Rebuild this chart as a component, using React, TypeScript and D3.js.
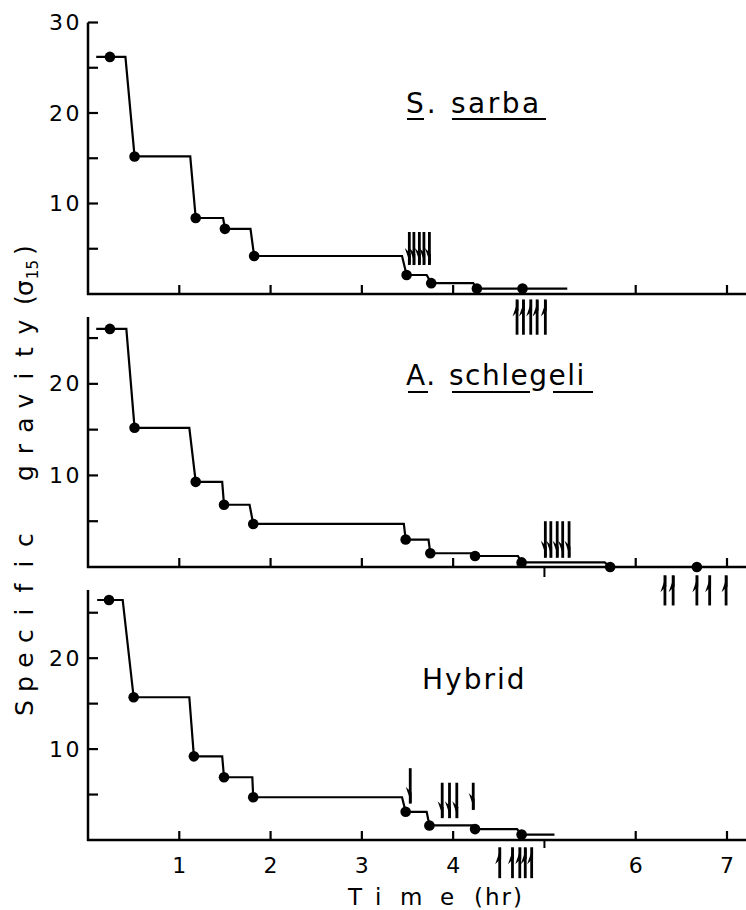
import React from "react";
import * as d3 from "d3";

// ---------- data ----------
const xTicks = [1, 2, 3, 4, 5, 6, 7];
const xTickLabels = ["1", "2", "3", "4", "", "6", "7"];
const yMinorTicks = [5, 15, 25];
const yMajorTicks = [10, 20, 30];

// S. sarba
const sarbaT = [0.24, 0.51, 1.18, 1.5, 1.82, 3.49, 3.76, 4.26, 4.76];
const sarbaV = [26.2, 15.2, 8.4, 7.2, 4.2, 2.1, 1.2, 0.6, 0.6];
const sarbaDrop = [0, 0.41, 1.12, 1.48, 1.78, 3.44, 3.71, 4.22, 4.76];
const sarbaStart = 0.09;
const sarbaEnd = 5.25;
const sarbaDownT = [3.52, 3.57, 3.63, 3.68, 3.74];
const sarbaDownY = [6.85, 3.2];
const sarbaUpT = [4.7, 4.77, 4.85, 4.92, 5.01];
const sarbaUpY = [-0.6, -4.5];

// A. schlegeli
const schT = [0.24, 0.51, 1.18, 1.49, 1.81, 3.48, 3.75, 4.24, 4.75, 5.72];
const schV = [26.0, 15.2, 9.3, 6.8, 4.7, 3.0, 1.5, 1.2, 0.5, 0];
const schDrop = [0, 0.42, 1.11, 1.47, 1.77, 3.46, 3.73, 4.22, 4.71, 5.66];
const schStart = 0.09;
const schEnd = 5.72;
const schExtraT = [6.67];
const schExtraV = [0];
const schDownT = [5.01, 5.07, 5.14, 5.2, 5.27];
const schDownY = [5.0, 1.0];
const schUpT = [6.32, 6.41, 6.67, 6.81, 6.99];
const schUpY = [-0.9, -4.2];

// Hybrid
const hybT = [0.23, 0.5, 1.16, 1.49, 1.81, 3.48, 3.74, 4.24, 4.75];
const hybV = [26.4, 15.7, 9.2, 6.9, 4.7, 3.1, 1.6, 1.2, 0.6];
const hybDrop = [0, 0.38, 1.11, 1.47, 1.8, 3.44, 3.71, 4.21, 4.7];
const hybStart = 0.1;
const hybEnd = 5.11;
const hybDownT = [3.53, 3.88, 3.96, 4.04, 4.22];
const hybDownTop = [7.9, 6.3, 6.3, 6.3, 6.3];
const hybDownBot = [4.0, 2.4, 2.4, 2.4, 3.3];
const hybUpT = [4.51, 4.65, 4.73, 4.79, 4.86];
const hybUpY = [-0.8, -4.2];

// axis titles (typewriter-spaced glyphs)
const yTitleChars = ["S", "p", "e", "c", "i", "f", "i", "c", "g", "r", "a", "v", "i", "t", "y", "(", "σ"];
const yTitlePos = [14, 38, 62, 86, 110, 134, 158, 182, 249, 273, 297, 321, 346, 370, 395, 422, 444];

const FONT = "'DejaVu Sans', sans-serif";

const x = d3.scaleLinear().domain([0, 7]).range([88, 727]);

type Panel = {
  t: number[];
  v: number[];
  drop: number[];
  start: number;
  end: number;
  extraT: number[];
  extraV: number[];
  downs: { t: number; top: number; bot: number }[];
  ups: { t: number; top: number; bot: number }[];
  yMax: number;
  top: number;
  bottom: number;
  axisTop: number;
  fiveTick: number;
};

const panels: Panel[] = [
  {
    t: sarbaT, v: sarbaV, drop: sarbaDrop, start: sarbaStart, end: sarbaEnd,
    extraT: [], extraV: [],
    downs: sarbaDownT.map((t) => ({ t, top: sarbaDownY[0], bot: sarbaDownY[1] })),
    ups: sarbaUpT.map((t) => ({ t, top: sarbaUpY[0], bot: sarbaUpY[1] })),
    yMax: 30, top: 22.5, bottom: 294, axisTop: 22.5, fiveTick: 0,
  },
  {
    t: schT, v: schV, drop: schDrop, start: schStart, end: schEnd,
    extraT: schExtraT, extraV: schExtraV,
    downs: schDownT.map((t) => ({ t, top: schDownY[0], bot: schDownY[1] })),
    ups: schUpT.map((t) => ({ t, top: schUpY[0], bot: schUpY[1] })),
    yMax: 27.3, top: 317, bottom: 567, axisTop: 317, fiveTick: 10,
  },
  {
    t: hybT, v: hybV, drop: hybDrop, start: hybStart, end: hybEnd,
    extraT: [], extraV: [],
    downs: hybDownT.map((t, i) => ({ t, top: hybDownTop[i], bot: hybDownBot[i] })),
    ups: hybUpT.map((t) => ({ t, top: hybUpY[0], bot: hybUpY[1] })),
    yMax: 27.5, top: 590, bottom: 840, axisTop: 590, fiveTick: 8,
  },
];

function DownArrow({ px, y1, y2 }: { px: number; y1: number; y2: number }) {
  return (
    <g>
      <line x1={px} x2={px} y1={y1} y2={y2} stroke="#000" strokeWidth={2.8} />
      <path d={`M${px + 1.4},${y2} L${px - 4.5},${y2 - 17} L${px + 1.4},${y2 - 11} Z`} fill="#000" />
    </g>
  );
}
function UpArrow({ px, y1, y2 }: { px: number; y1: number; y2: number }) {
  return (
    <g>
      <line x1={px} x2={px} y1={y1} y2={y2} stroke="#000" strokeWidth={2.8} />
      <path d={`M${px + 1.4},${y1} L${px - 4.5},${y1 + 17} L${px + 1.4},${y1 + 11} Z`} fill="#000" />
    </g>
  );
}

function PanelView({ p, showXLabels }: { p: Panel; showXLabels: boolean }) {
  const y = d3.scaleLinear().domain([0, p.yMax]).range([p.bottom, p.top]);
  const pts: [number, number][] = [[p.start, p.v[0]], [p.t[0], p.v[0]]];
  for (let i = 1; i < p.t.length; i++) {
    pts.push([p.drop[i], p.v[i - 1]]);
    pts.push([p.t[i], p.v[i]]);
  }
  pts.push([p.end, p.v[p.v.length - 1]]);
  const line = d3.line<[number, number]>().x((d) => x(d[0])).y((d) => y(d[1]));
  const yTicks = [...yMinorTicks, ...yMajorTicks].filter((v) => v <= p.yMax + 0.01);
  return (
    <g>
      {/* axes */}
      <line x1={x(0)} x2={x(0)} y1={p.axisTop} y2={p.bottom + 1} stroke="#000" strokeWidth={2.5} />
      <line x1={x(0) - 1} x2={746} y1={p.bottom} y2={p.bottom} stroke="#000" strokeWidth={2.5} />
      {yTicks.map((v) => (
        <line key={v} x1={x(0)} x2={x(0) + 10} y1={y(v)} y2={y(v)} stroke="#000" strokeWidth={2.2} />
      ))}
      {yMajorTicks.filter((v) => v <= p.yMax).map((v) => (
        <text key={"l" + v} x={82} y={y(v) + 7.5} textAnchor="end" fontFamily={FONT} fontSize={22} letterSpacing={2.5}>
          {v}
        </text>
      ))}
      {xTicks.map((t) =>
        t === 5 ? (
          p.fiveTick > 0 ? (
            <line key={t} x1={x(t)} x2={x(t)} y1={p.bottom} y2={p.bottom + p.fiveTick} stroke="#000" strokeWidth={2} />
          ) : null
        ) : (
          <line key={t} x1={x(t)} x2={x(t)} y1={p.bottom} y2={p.bottom - 9} stroke="#000" strokeWidth={2.2} />
        )
      )}
      {showXLabels &&
        xTicks.map((t, i) => (
          <text key={"x" + t} x={x(t)} y={873} textAnchor="middle" fontFamily={FONT} fontSize={22}>
            {xTickLabels[i]}
          </text>
        ))}
      {/* step line */}
      <path d={line(pts) || ""} fill="none" stroke="#000" strokeWidth={2.2} />
      {p.t.map((t, i) => (
        <circle key={i} cx={x(t)} cy={y(p.v[i])} r={5.3} fill="#000" />
      ))}
      {p.extraT.map((t, i) => (
        <circle key={"e" + i} cx={x(t)} cy={y(p.extraV[i])} r={5.3} fill="#000" />
      ))}
      {p.downs.map((a, i) => (
        <DownArrow key={"d" + i} px={x(a.t)} y1={y(a.top)} y2={y(a.bot)} />
      ))}
      {p.ups.map((a, i) => (
        <UpArrow key={"u" + i} px={x(a.t)} y1={y(a.top)} y2={y(a.bot)} />
      ))}
    </g>
  );
}

export default function App() {
  const titleStyle = { fontFamily: FONT, fontSize: 28 } as const;
  return (
    <svg width={746} height={910} style={{ position: "absolute", left: 0, top: 0, background: "#fff" }}>
      <rect width={746} height={910} fill="#fff" />
      {panels.map((p, i) => (
        <PanelView key={i} p={p} showXLabels={i === 2} />
      ))}
      {/* titles */}
      <text x={406} y={113} {...titleStyle} letterSpacing={3}>S.</text>
      <text x={451} y={113} {...titleStyle} letterSpacing={2.5}>sarba</text>
      <line x1={407} x2={424} y1={119} y2={119} stroke="#000" strokeWidth={2} />
      <line x1={452} x2={546} y1={119} y2={119} stroke="#000" strokeWidth={2} />

      <text x={406} y={385} {...titleStyle} letterSpacing={1.5}>A.</text>
      <text x={449} y={385} {...titleStyle} letterSpacing={1.5}>schlegeli</text>
      <line x1={408} x2={428} y1={392} y2={392} stroke="#000" strokeWidth={2} />
      <line x1={452} x2={530} y1={392} y2={392} stroke="#000" strokeWidth={2} />
      <line x1={553} x2={593} y1={392} y2={392} stroke="#000" strokeWidth={2} />

      <text x={422} y={689} {...titleStyle} letterSpacing={2}>Hybrid</text>

      {/* x axis title */}
      <text y={905} fontFamily={FONT} fontSize={23}>
        <tspan x={348}>T</tspan>
        <tspan x={375}>i</tspan>
        <tspan x={400}>m</tspan>
        <tspan x={440}>e</tspan>
        <tspan x={474} letterSpacing={2}>(hr)</tspan>
      </text>

      {/* y axis title */}
      <g transform="translate(33,722) rotate(-90)">
        <text y={0} fontFamily={FONT} fontSize={25}>
          {yTitleChars.map((c, i) => (
            <tspan key={i} x={yTitlePos[i]} textAnchor="middle">
              {c}
            </tspan>
          ))}
          <tspan fontSize={15} dx={1} dy={5}>15</tspan>
          <tspan x={472} dy={-5} textAnchor="middle">)</tspan>
        </text>
      </g>
    </svg>
  );
}
